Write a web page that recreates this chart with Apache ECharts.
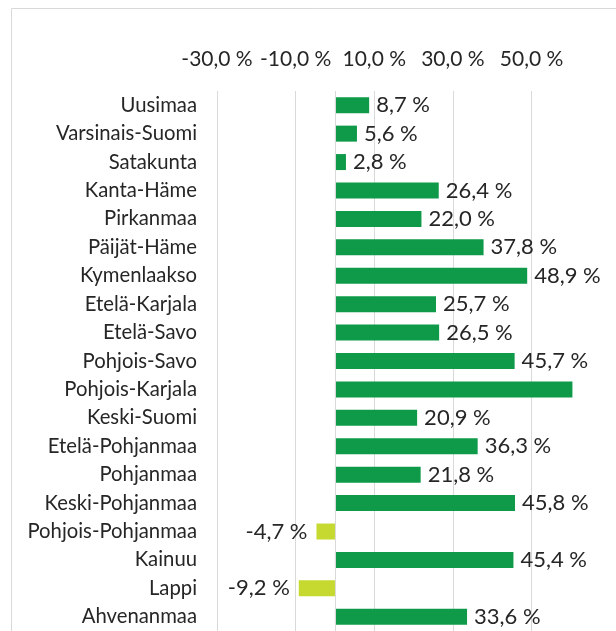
<!DOCTYPE html>
<html>
<head>
<meta charset="utf-8">
<script src="https://cdn.jsdelivr.net/npm/echarts@6/dist/echarts.min.js"></script>
<style>
  html, body { margin: 0; padding: 0; background: #fff; }
  #chart { width: 616px; height: 631px; }
</style>
</head>
<body>
<div id="chart"></div>
<script>
// maakunnat, ylhäältä alas
const regions = [
  'Uusimaa', 'Varsinais-Suomi', 'Satakunta', 'Kanta-Häme', 'Pirkanmaa',
  'Päijät-Häme', 'Kymenlaakso', 'Etelä-Karjala', 'Etelä-Savo', 'Pohjois-Savo',
  'Pohjois-Karjala', 'Keski-Suomi', 'Etelä-Pohjanmaa', 'Pohjanmaa',
  'Keski-Pohjanmaa', 'Pohjois-Pohjanmaa', 'Kainuu', 'Lappi', 'Ahvenanmaa'
];
const changes = [
  8.7, 5.6, 2.8, 26.4, 22.0,
  37.8, 48.9, 25.7, 26.5, 45.7,
  60.4, 20.9, 36.3, 21.8,
  45.8, -4.7, 45.4, -9.2, 33.6
];
const axisTicks = [-30, -10, 10, 30, 50];

const fmt = v => v.toFixed(1).replace('.', ',') + ' %';
const textColor = '#262626';
const font = 'Lato, "Open Sans", sans-serif';

const chart = echarts.init(document.getElementById('chart'));

const barData = changes.map(v => ({
  value: v,
  itemStyle: { color: v < 0 ? '#C6D930' : '#0E9A48' },
  label: {
    position: v < 0 ? 'left' : 'right',
    distance: v < 0 ? 9 : 7,
    // Pohjois-Karjalan arvo ei mahdu kuvaan
    show: v < 55
  }
}));

chart.setOption({
  animation: false,
  graphic: [{
    type: 'rect',
    shape: { x: 11.5, y: 8.5, width: 640, height: 660 },
    style: { fill: 'none', stroke: '#D9D9D9', lineWidth: 1 },
    silent: true
  }],
  grid: { left: 217, right: 25.5, top: 91, bottom: 0, containLabel: false },
  xAxis: {
    type: 'value',
    position: 'top',
    min: axisTicks[0],
    max: 65,
    interval: 20,
    axisLine: { show: false },
    axisTick: { show: false },
    splitLine: { show: true, showMaxLine: false, lineStyle: { color: '#D9D9D9', width: 1 } },
    axisLabel: {
      showMaxLabel: false,
      margin: 21,
      color: textColor,
      fontFamily: font,
      fontSize: 21,
      formatter: fmt
    }
  },
  yAxis: {
    type: 'category',
    data: regions,
    inverse: true,
    axisLine: { show: false },
    axisTick: { show: false },
    axisLabel: {
      margin: 20,
      color: textColor,
      fontFamily: font,
      fontSize: 20.3
    }
  },
  series: [{
    type: 'bar',
    data: barData,
    barWidth: 16,
    label: {
      show: true,
      color: textColor,
      fontFamily: font,
      fontSize: 22,
      formatter: p => fmt(p.value)
    },
    markLine: {
      silent: true,
      symbol: 'none',
      label: { show: false },
      lineStyle: { color: '#D9D9D9', type: 'solid', width: 1 },
      data: [{ xAxis: 0 }]
    }
  }]
});
</script>
</body>
</html>
